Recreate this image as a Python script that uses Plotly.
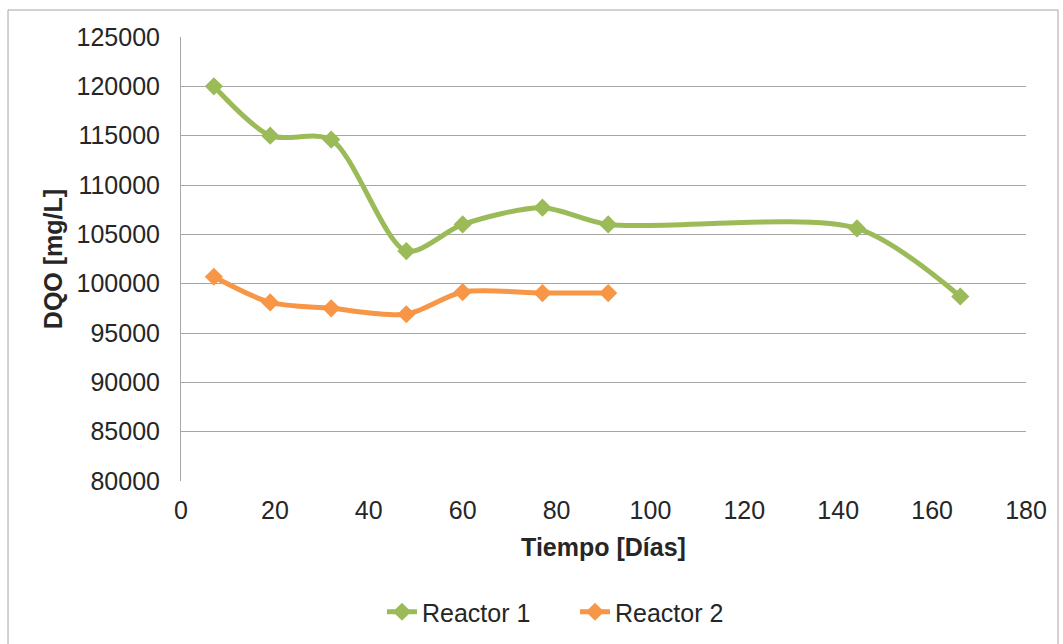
import plotly.graph_objects as go

dias_r1 = [7, 19, 32, 48, 60, 77, 91, 144, 166]
dqo_r1 = [120000, 115000, 114600, 103300, 106000, 107700, 106000, 105600, 98700]
dias_r2 = [7, 19, 32, 48, 60, 77, 91]
dqo_r2 = [100700, 98100, 97500, 96900, 99150, 99050, 99050]

GREEN = "#9BBB59"
ORANGE = "#F79646"
FONT = "Liberation Sans, Arial, sans-serif"
TXT = "#262626"

fig = go.Figure()
fig.add_trace(go.Scatter(x=dias_r1, y=dqo_r1, name="Reactor 1", mode="lines+markers",
                         line=dict(color=GREEN, width=5, shape="spline", smoothing=0.8),
                         marker=dict(symbol="diamond", size=14, color=GREEN)))
fig.add_trace(go.Scatter(x=dias_r2, y=dqo_r2, name="Reactor 2", mode="lines+markers",
                         line=dict(color=ORANGE, width=5, shape="spline", smoothing=0.8),
                         marker=dict(symbol="diamond", size=14, color=ORANGE)))

fig.update_layout(
    width=1063, height=644,
    margin=dict(l=181, r=37, t=37, b=163, autoexpand=False),
    paper_bgcolor="white", plot_bgcolor="white",
    font=dict(family=FONT, size=25, color=TXT),
    showlegend=True,
    legend=dict(orientation="h", xref="container", yref="container",
                x=575 / 1063, xanchor="center", y=1 - 612 / 644, yanchor="middle",
                entrywidth=148, entrywidthmode="pixels",
                font=dict(size=25, color=TXT)),
    xaxis=dict(range=[0, 180], dtick=20, showgrid=False, zeroline=False, automargin=False,
               showline=False, ticks="", ticklabelstandoff=12,
               title=dict(text="<b>Tiempo [Días]</b>", standoff=15,
                          font=dict(size=25, color=TXT))),
    yaxis=dict(range=[80000, 125000], dtick=5000, showgrid=True, gridcolor="#A6A6A6",
               gridwidth=1, zeroline=False, showline=True, linecolor="#A6A6A6", automargin=False,
               linewidth=1, ticks="", ticklabelstandoff=15, tickformat="d",
               title=dict(text="<b>DQO [mg/L]</b>", standoff=6,
                          font=dict(size=25, color=TXT))),
    shapes=[dict(type="rect", xref="paper", yref="paper",
                 x0=-173/845, x1=(1058-181)/845, y0=-0.5, y1=1 + 27/444,
                 line=dict(color="#A6A6A6", width=1), fillcolor="rgba(0,0,0,0)", layer="below")],
)

fig.write_html("out.html")
